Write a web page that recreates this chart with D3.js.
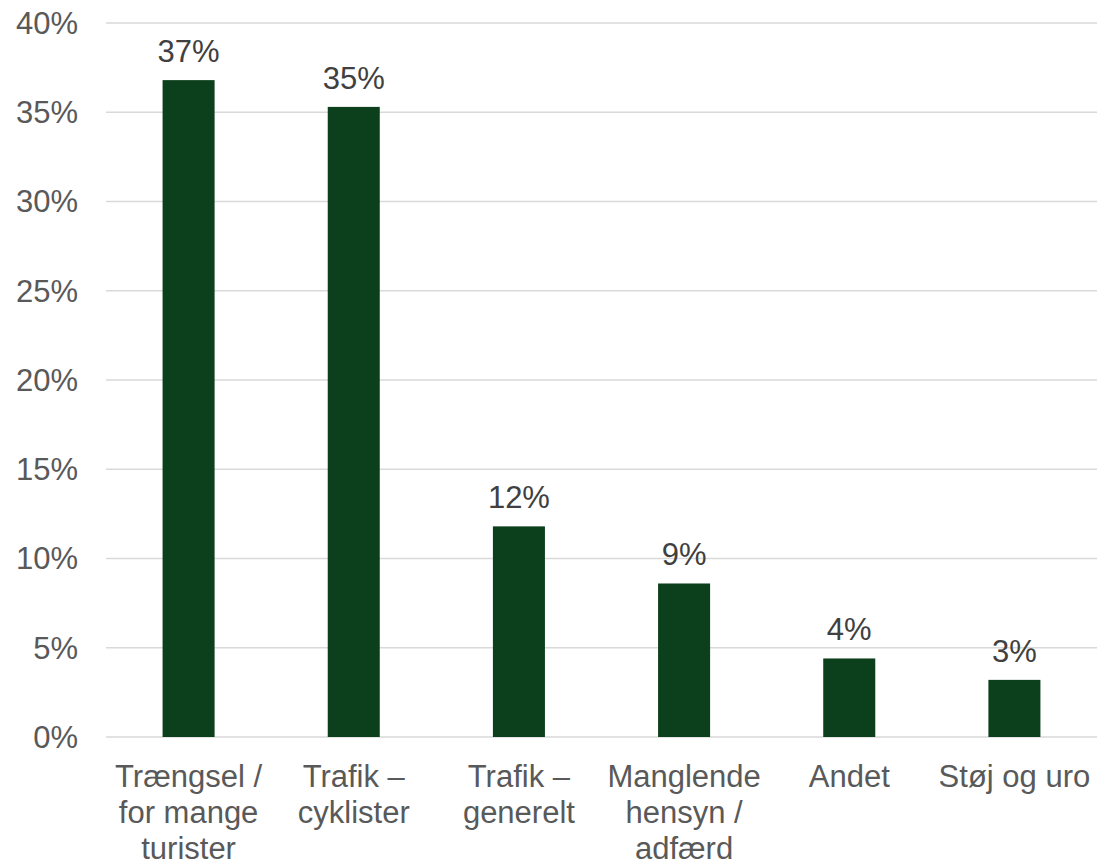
<!DOCTYPE html>
<html>
<head>
<meta charset="utf-8">
<script src="https://cdn.jsdelivr.net/npm/d3@7"></script>
<style>
  html, body { margin: 0; padding: 0; background: #ffffff; }
  svg { display: block; font-family: Arial, "Liberation Sans", sans-serif; }
</style>
</head>
<body>
<svg id="chart" width="1102" height="863"></svg>
<script>
const categories = [
  ["Trængsel /", "for mange", "turister"],
  ["Trafik –", "cyklister"],
  ["Trafik –", "generelt"],
  ["Manglende", "hensyn /", "adfærd"],
  ["Andet"],
  ["Støj og uro"]
];
const values = [36.8, 35.3, 11.8, 8.6, 4.4, 3.2];
const yTicks = [0, 5, 10, 15, 20, 25, 30, 35, 40];

(function () {
const svg = d3.select("#chart");
const mLeft = 106, mRight = 1097, mTop = 23, mBottom = 737;
const keys = categories.map(c => c.join(" "));

const x = d3.scaleBand().domain(keys).range([mLeft, mRight])
  .paddingInner(0.685).paddingOuter(0.3425);
const y = d3.scaleLinear().domain([0, 40]).range([mBottom, mTop]);

// gridlines
svg.append("g").selectAll("line").data(yTicks).join("line")
  .attr("x1", mLeft).attr("x2", mRight)
  .attr("y1", d => y(d)).attr("y2", d => y(d))
  .attr("stroke", "#d9d9d9").attr("stroke-width", 1.5);

// y tick labels
svg.append("g").selectAll("text").data(yTicks).join("text")
  .attr("x", 78).attr("y", d => y(d))
  .attr("dy", "0.35em")
  .attr("text-anchor", "end")
  .attr("font-size", 31)
  .attr("fill", "#595959")
  .text(d => d + "%");

// bars
svg.append("g").selectAll("rect").data(values).join("rect")
  .attr("x", (d, i) => x(keys[i]))
  .attr("width", x.bandwidth())
  .attr("y", d => y(d))
  .attr("height", d => y(0) - y(d))
  .attr("fill", "#0c3f1b");

// data labels
svg.append("g").selectAll("text").data(values).join("text")
  .attr("x", (d, i) => x(keys[i]) + x.bandwidth() / 2)
  .attr("y", d => y(d) - 18)
  .attr("text-anchor", "middle")
  .attr("font-size", 31)
  .attr("fill", "#404040")
  .text(d => Math.round(d) + "%");

// category labels
const cat = svg.append("g").selectAll("text").data(categories).join("text")
  .attr("text-anchor", "middle")
  .attr("font-size", 31)
  .attr("fill", "#595959");
cat.each(function(lines, i) {
  const cx = x(keys[i]) + x.bandwidth() / 2;
  d3.select(this).selectAll("tspan").data(lines).join("tspan")
    .attr("x", cx)
    .attr("y", (d, j) => 787 + j * 36)
    .text(d => d);
});
})();
</script>
</body>
</html>
